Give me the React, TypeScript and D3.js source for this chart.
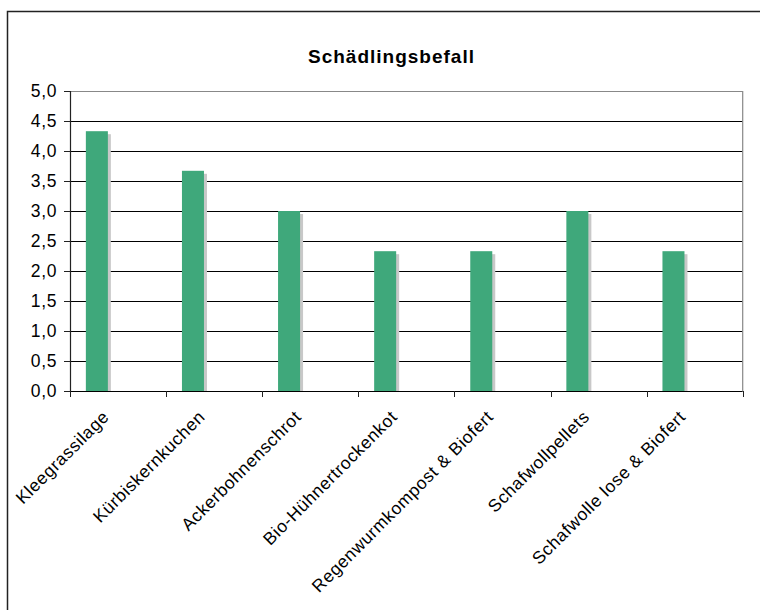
import React from "react";
import * as d3 from "d3";

const title = "Schädlingsbefall";
const categories = [
  "Kleegrassilage",
  "Kürbiskernkuchen",
  "Ackerbohnenschrot",
  "Bio-Hühnertrockenkot",
  "Regenwurmkompost & Biofert",
  "Schafwollpellets",
  "Schafwolle lose & Biofert",
];
const values = [4.33, 3.67, 3.0, 2.33, 2.33, 3.0, 2.33];
const yTicks = [0, 0.5, 1, 1.5, 2, 2.5, 3, 3.5, 4, 4.5, 5];

const W = 760;
const H = 610;
const plot = { left: 70, right: 742.7, top: 91, bottom: 391 };
const FONT = "'Liberation Sans', Arial, sans-serif";

export default function App() {
  const x = d3
    .scaleBand<string>()
    .domain(categories)
    .range([plot.left, plot.right])
    .padding(0);
  const y = d3.scaleLinear().domain([0, 5]).range([plot.bottom, plot.top]);
  const bw = x.bandwidth();
  const barOff = bw * 0.165;
  const barW = bw * 0.229;
  const fmt = (v: number) => d3.format(".1f")(v).replace(".", ",");
  const boundaries = [...categories.map((c) => x(c) as number), plot.right];

  return (
    <svg
      width={W}
      height={H}
      style={{ position: "absolute", left: 0, top: 0, background: "#fff" }}
    >
      <rect x={0} y={0} width={W} height={H} fill="#fff" />
      {/* outer frame */}
      <rect
        x={7.5}
        y={11.5}
        width={W + 20}
        height={H + 20}
        fill="none"
        stroke="#222"
        strokeWidth={1.5}
      />
      <text
        x={391.5}
        y={63}
        textAnchor="middle"
        fontFamily={FONT}
        fontWeight="bold"
        fontSize={19}
        letterSpacing={1}
        fill="#000"
      >
        {title}
      </text>

      {/* gridlines */}
      {yTicks
        .filter((t) => t > 0 && t < 5)
        .map((t) => (
          <line
            key={"g" + t}
            x1={plot.left}
            x2={plot.right}
            y1={Math.round(y(t)) + 0.5}
            y2={Math.round(y(t)) + 0.5}
            stroke="#000"
            strokeWidth={1}
          />
        ))}
      {/* plot border top/right */}
      <line
        x1={plot.left}
        x2={plot.right}
        y1={plot.top + 0.5}
        y2={plot.top + 0.5}
        stroke="#888"
        strokeWidth={1}
      />
      <line
        x1={plot.right}
        x2={plot.right}
        y1={plot.top}
        y2={plot.bottom}
        stroke="#888"
        strokeWidth={1.2}
      />

      {/* bars with shadows */}
      {categories.map((c, i) => {
        const bx = (x(c) as number) + barOff;
        const top = y(values[i]);
        return (
          <g key={c}>
            <rect
              x={bx + 3}
              y={top + 3}
              width={barW}
              height={plot.bottom - top - 3}
              fill="#c8c8c8"
            />
            <rect
              x={bx}
              y={top}
              width={barW}
              height={plot.bottom - top}
              fill="#3fa87b"
            />
          </g>
        );
      })}

      {/* y axis */}
      <line
        x1={plot.left + 0.5}
        x2={plot.left + 0.5}
        y1={plot.top}
        y2={plot.bottom}
        stroke="#222"
        strokeWidth={1.2}
      />
      {yTicks.map((t) => (
        <g key={"t" + t}>
          <line
            x1={plot.left - 6}
            x2={plot.left}
            y1={Math.round(y(t)) + 0.5}
            y2={Math.round(y(t)) + 0.5}
            stroke="#222"
            strokeWidth={1}
          />
          <text
            x={57}
            y={y(t)}
            dy="0.36em"
            textAnchor="end"
            fontFamily={FONT}
            fontSize={17.5}
            letterSpacing={0.6}
            fill="#000"
          >
            {fmt(t)}
          </text>
        </g>
      ))}

      {/* x axis */}
      <line
        x1={plot.left}
        x2={plot.right}
        y1={plot.bottom + 0.5}
        y2={plot.bottom + 0.5}
        stroke="#000"
        strokeWidth={1.2}
      />
      {boundaries.map((b, i) => (
        <line
          key={"xb" + i}
          x1={Math.round(b) + 0.5}
          x2={Math.round(b) + 0.5}
          y1={plot.bottom}
          y2={plot.bottom + 6}
          stroke="#222"
          strokeWidth={1}
        />
      ))}
      {categories.map((c) => {
        const cx = (x(c) as number) + bw / 2 - 8;
        const cy = 418;
        return (
          <text
            key={"l" + c}
            transform={`translate(${cx},${cy}) rotate(-45)`}
            textAnchor="end"
            fontFamily={FONT}
            fontSize={17.5}
            letterSpacing={0.6}
            fill="#000"
          >
            {c}
          </text>
        );
      })}
    </svg>
  );
}
